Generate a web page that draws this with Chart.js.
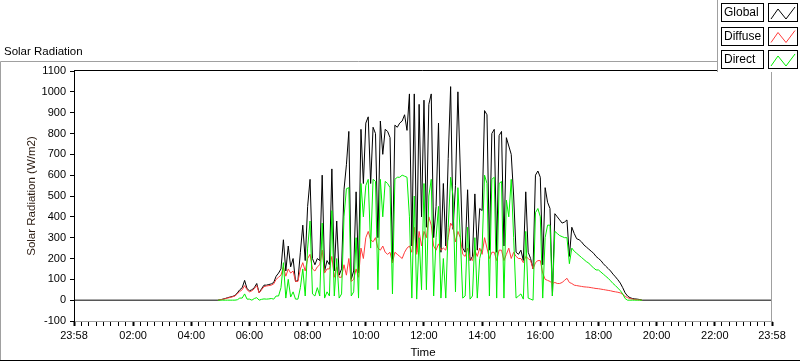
<!DOCTYPE html>
<html>
<head>
<meta charset="utf-8">
<script src="https://cdn.jsdelivr.net/npm/chart.js@4.4.1/dist/chart.umd.min.js"></script>
<style>
  html, body { margin: 0; padding: 0; background: #fff; }
</style>
</head>
<body>
<canvas id="solar" width="800" height="361"></canvas>
<script>
// day readings, one every 5 minutes from 04:55 to 19:30 (minutes after midnight)
const startMin = 295;
const stepMin = 5;

const globalRad = [
  0,
  2, 5, 8, 12, 15, 18, 22, 35, 50, 60, 95, 55,
  45, 50, 60, 80, 35, 55, 72, 72, 75, 78, 85, 115,
  130, 150, 290, 140, 260, 160, 200, 90, 95, 230, 360, 190,
  450, 580, 200, 170, 200, 190, 600, 140, 190, 170, 630, 140,
  380, 120, 150, 530, 650, 810, 100, 140, 520, 130, 820, 560,
  850, 880, 560, 830, 800, 300, 860, 700, 820, 810, 780, 180,
  840, 830, 850, 860, 890, 815, 990, 260, 990, 230, 940, 400,
  960, 350, 940, 990, 300, 450, 850, 230, 560, 260, 680, 1025,
  340, 550, 1000, 620, 250, 230, 530, 190, 210, 510, 240, 440,
  430, 910, 890, 240, 800, 820, 230, 790, 810, 260, 780, 740,
  700, 500, 230, 220, 240, 190, 520, 230, 200, 150, 600, 620,
  590, 170, 540, 470, 440, 20, 415, 400, 385, 370, 375, 385,
  210, 350, 320, 295, 290, 280, 265, 255, 245, 235, 225, 210,
  200, 190, 175, 163, 152, 140, 125, 112, 98, 82, 60, 35,
  20, 12, 8, 6, 5, 3, 0
];

const diffuseRad = [
  0,
  2, 4, 7, 10, 13, 16, 20, 30, 42, 50, 70, 50,
  40, 45, 55, 70, 35, 50, 65, 68, 70, 72, 78, 100,
  110, 120, 160, 115, 150, 130, 140, 90, 90, 150, 180, 140,
  200, 220, 150, 140, 160, 170, 240, 130, 150, 150, 210, 110,
  160, 110, 110, 170, 120, 200, 90, 100, 150, 110, 250, 200,
  300, 330, 290, 280, 300, 250, 240, 260, 230, 220, 230, 180,
  230, 220, 210, 200, 230, 250, 260, 230, 350, 220, 330, 260,
  330, 300, 400, 360, 260, 240, 270, 240, 250, 240, 300, 370,
  350, 280, 330, 300, 220, 210, 250, 200, 190, 240, 210, 250,
  220, 300, 250, 200, 230, 230, 190, 240, 240, 190, 220, 250,
  200, 230, 210, 200, 200, 180, 210, 200, 190, 150, 180, 190,
  190, 130, 100, 95, 90, 80, 85, 80, 80, 85, 95, 105,
  85, 80, 72, 70, 68, 66, 64, 63, 62, 60, 58, 56,
  55, 53, 51, 49, 47, 45, 42, 40, 38, 35, 28, 18,
  12, 8, 5, 3, 2, 1, 0
];

const directRad = [
  0,
  0, 0, 0, 0, 0, 0, 0, 2, 10, 10, 30, 5,
  5, 0, 8, 12, 0, 4, 6, 5, 6, 8, 5, 20,
  20, 60, 180, 10, 100, 15, 40, 5, 5, 60, 150, 20,
  250, 380, 30, 20, 60, 20, 370, 10, 40, 20, 430, 20,
  200, 10, 30, 400, 535, 540, 20, 40, 300, 10, 560, 400,
  550, 580, 250, 580, 570, 50, 580, 400, 570, 560, 540, 30,
  580, 590, 590, 600, 595, 590, 400, 10, 500, 5, 300, 50,
  560, 50, 500, 580, 20, 300, 450, 10, 200, 10, 350, 590,
  500, 40, 540, 300, 10, 20, 350, 5, 20, 300, 10, 200,
  250, 600, 560, 20, 580, 590, 10, 560, 570, 10, 480, 400,
  580, 300, 10, 20, 30, 5, 330, 10, 5, 0, 420, 440,
  400, 10, 300, 360, 360, 20, 330, 320, 310, 305, 300, 300,
  175, 250, 235, 225, 215, 205, 195, 185, 178, 165, 155, 145,
  145, 135, 125, 115, 105, 93, 80, 70, 58, 46, 30, 8,
  0, 0, 0, 0, 0, 0, 0
];

// global sensor keeps logging 0 through the night
const nightTimes = [-2, 1438];
const nightGlobal = [0, 0];

// x axis: 23:58 to 23:58, labels every two hours
const tickLabels = ['23:58', '02:00', '04:00', '06:00', '08:00', '10:00', '12:00',
                    '14:00', '16:00', '18:00', '20:00', '22:00', '23:58'];
const majorTicks = [-2, 120, 240, 360, 480, 600, 720, 840, 960, 1080, 1200, 1320, 1438];

const seriesNames = ['Global', 'Diffuse', 'Direct'];
const seriesColors = ['#000000', '#ff3c3c', '#00ee00'];

const FONT = "'Liberation Sans', Arial, sans-serif";

const times = globalRad.map((v, i) => startMin + i * stepMin);
const toPoints = vals => vals.map((v, i) => ({ x: times[i], y: v }));

const globalPts = [{ x: nightTimes[0], y: nightGlobal[0] }]
  .concat(toPoints(globalRad))
  .concat([{ x: nightTimes[1], y: nightGlobal[1] }]);

// minor ticks: 8 divisions between each pair of labels
const allTicks = [];
for (let i = 0; i < majorTicks.length - 1; i++) {
  const a = majorTicks[i], b = majorTicks[i + 1];
  for (let k = 0; k < 8; k++) allTicks.push(a + (b - a) * k / 8);
}
allTicks.push(majorTicks[majorTicks.length - 1]);

const frame = {
  id: 'frame',
  afterDraw(chart) {
    const ctx = chart.ctx;
    const a = chart.chartArea;
    ctx.save();
    ctx.lineWidth = 1;

    // outer panel
    ctx.strokeStyle = '#a0a0a0';
    ctx.beginPath();
    ctx.moveTo(0.5, 360); ctx.lineTo(0.5, 61.5); ctx.lineTo(717, 61.5);
    ctx.stroke();
    ctx.strokeStyle = '#000';
    ctx.beginPath();
    ctx.moveTo(0, 360.5); ctx.lineTo(800, 360.5);
    ctx.stroke();

    // plot box top and right
    const top = Math.round(a.top) - 0.5;
    const right = Math.round(a.right) - 0.5;
    ctx.strokeStyle = '#000';
    ctx.beginPath();
    ctx.moveTo(Math.round(a.left), top); ctx.lineTo(right, top);
    ctx.stroke();
    ctx.strokeStyle = '#a0a0a0';
    ctx.beginPath();
    ctx.moveTo(right, top); ctx.lineTo(right, Math.round(a.bottom));
    ctx.stroke();

    // caption
    ctx.fillStyle = '#000';
    ctx.font = '11.5px ' + FONT;
    ctx.textBaseline = 'alphabetic';
    ctx.textAlign = 'left';
    ctx.fillText('Solar Radiation', 4, 55);

    // legend panel
    ctx.fillStyle = '#fff';
    ctx.fillRect(717, 0, 83, 72);
    ctx.strokeStyle = '#a0a0a0';
    ctx.beginPath();
    ctx.moveTo(717.5, 0); ctx.lineTo(717.5, 72);
    ctx.stroke();

    ctx.font = '12px ' + FONT;
    ctx.textBaseline = 'middle';
    seriesNames.forEach((name, i) => {
      const y = 3 + i * 23.5;
      ctx.strokeStyle = '#000';
      ctx.strokeRect(721.5, Math.round(y) + 0.5, 42, 18);
      ctx.strokeRect(768.5, Math.round(y) + 0.5, 29, 18);
      ctx.fillStyle = '#000';
      ctx.fillText(name, 724, Math.round(y) + 10);
      ctx.strokeStyle = seriesColors[i];
      ctx.beginPath();
      ctx.moveTo(771, y + 16); ctx.lineTo(778, y + 6);
      ctx.lineTo(786, y + 16); ctx.lineTo(795, y + 4);
      ctx.stroke();
    });
    ctx.restore();
  }
};

new Chart(document.getElementById('solar'), {
  type: 'line',
  data: {
    datasets: [
      { label: seriesNames[0], data: globalPts, borderColor: seriesColors[0], order: 3 },
      { label: seriesNames[1], data: toPoints(diffuseRad), borderColor: seriesColors[1], order: 2 },
      { label: seriesNames[2], data: toPoints(directRad), borderColor: seriesColors[2], order: 1 }
    ]
  },
  options: {
    responsive: false,
    animation: false,
    events: [],
    layout: { padding: { top: 71, right: 28, left: 0, bottom: 0 } },
    elements: {
      point: { radius: 0 },
      line: { borderWidth: 1, tension: 0, fill: false }
    },
    plugins: {
      legend: { display: false },
      tooltip: { enabled: false },
      title: { display: false }
    },
    scales: {
      x: {
        type: 'linear',
        min: -2,
        max: 1438,
        afterBuildTicks: s => { s.ticks = allTicks.map(v => ({ value: v })); },
        afterFit: s => { s.height = 40; },
        ticks: {
          autoSkip: false,
          maxRotation: 0,
          padding: 3,
          color: '#000',
          font: { family: FONT, size: 11 },
          callback: v => {
            const i = majorTicks.indexOf(v);
            return i >= 0 ? tickLabels[i] : '';
          }
        },
        grid: {
          drawOnChartArea: false,
          tickLength: 5,
          tickColor: '#000',
          tickWidth: c => (c.tick && majorTicks.indexOf(c.tick.value) >= 0) ? 2 : 1
        },
        border: { color: '#a0a0a0', width: 1 },
        title: {
          display: true,
          text: 'Time',
          color: '#000',
          font: { family: FONT, size: 11.5 },
          padding: { top: 0, bottom: 1 }
        }
      },
      y: {
        min: -100,
        max: 1100,
        afterFit: s => { s.width = 74; },
        ticks: {
          stepSize: 100,
          padding: 4,
          color: '#000',
          font: { family: FONT, size: 11 },
          callback: v => String(v)
        },
        grid: { drawOnChartArea: false, tickLength: 4, tickColor: '#000' },
        border: { color: '#000', width: 1 },
        title: {
          display: true,
          text: 'Solar Radiation (W/m2)',
          color: '#2a1a10',
          font: { family: FONT, size: 11.5 },
          padding: { top: 25, bottom: 0 }
        }
      }
    }
  },
  plugins: [frame]
});
</script>
</body>
</html>
